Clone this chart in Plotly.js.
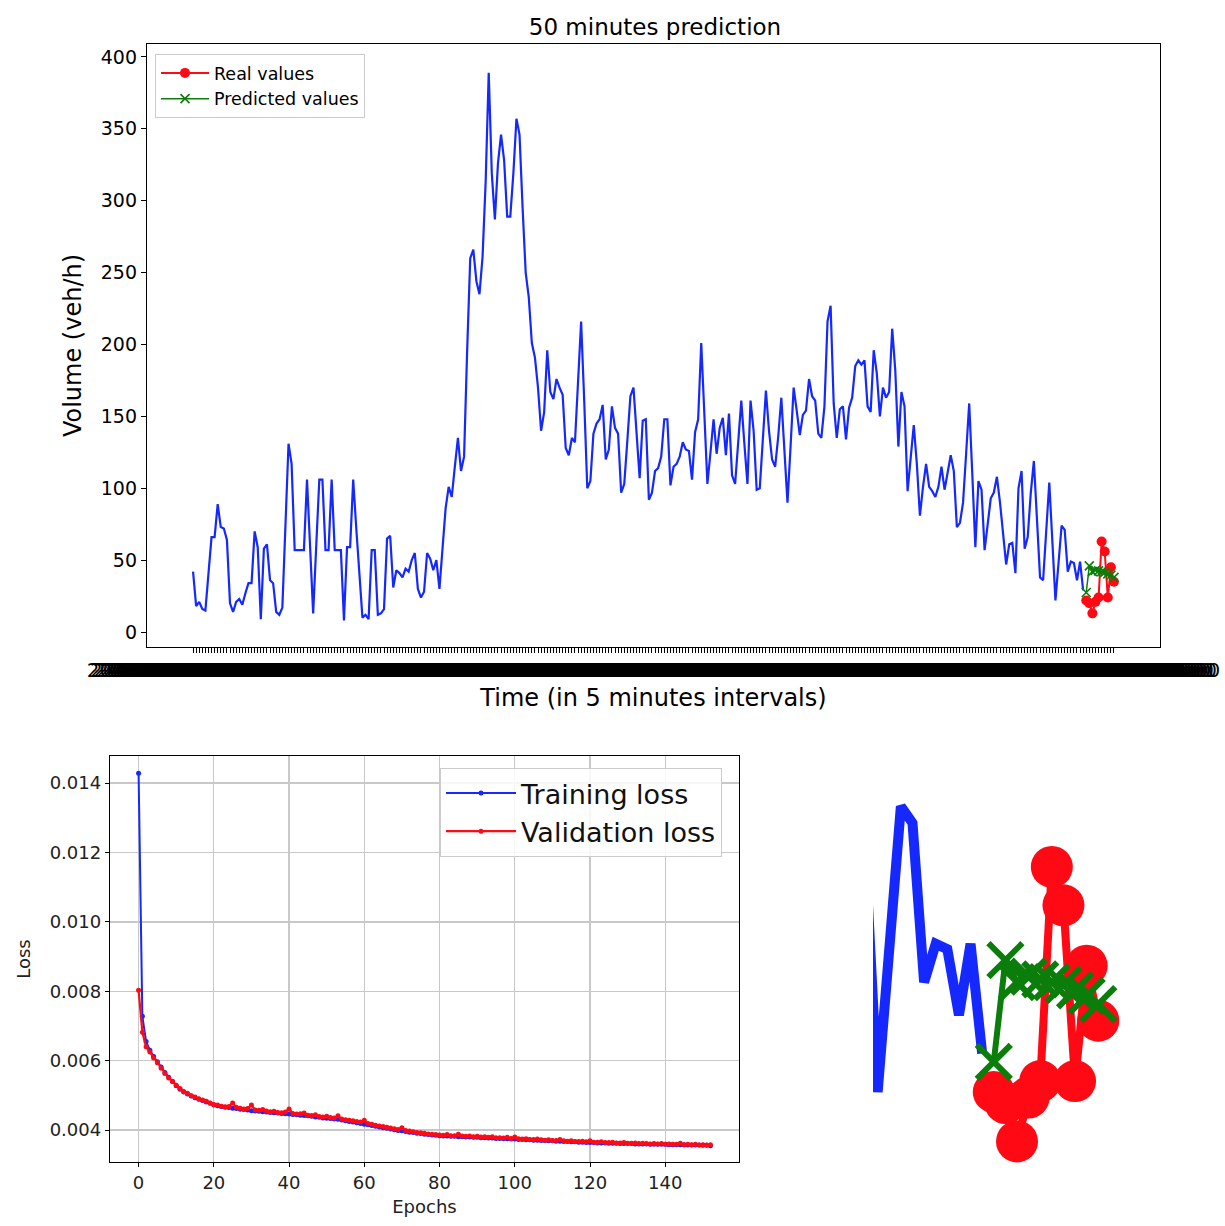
<!DOCTYPE html>
<html><head><meta charset="utf-8">
<script src="https://cdn.plot.ly/plotly-3.0.1.min.js"></script>
<style>html,body{margin:0;padding:0;background:#fff}#chart{width:1225px;height:1226px}</style>
</head><body><div id="chart"></div>
<script>
// Observed traffic volume (veh/h), 5-minute steps
const volume = [
42,18,21,16,15,40,66,66,89,73,72,64,20,14,21,23,19,27,34,34,70,59,9,58,61,36,34,14,12,17,74,131,117,57,57,57,57,106,60,13,60,106,106,57,57,106,57,57,57,8,59,59,106,72,38,10,12,9,57,57,12,
13,16,65,67,31,43,41,38,44,42,50,55,30,24,28,55,51,43,50,30,55,86,101,94,115,135,112,122,196,260,266,244,235,261,313,389,319,287,326,346,328,289,289,319,357,346,295,250,233,201,191,170,140,153,196,167,162,176,170,
165,128,123,135,132,174,216,161,100,105,138,145,148,158,120,127,157,142,138,97,103,133,164,170,138,107,147,148,92,97,112,114,122,148,148,102,115,117,122,132,127,126,106,139,148,201,152,103,125,148,124,142,149,123,152,109,103,132,161,131,
103,161,140,99,100,134,168,140,120,115,136,163,129,90,129,170,154,137,151,154,176,164,161,138,135,157,216,227,159,135,155,157,134,156,163,185,189,186,189,157,153,196,180,150,170,163,167,211,182,129,167,157,98,121,144,117,81,101,117,101,
98,94,101,115,99,111,123,112,73,76,90,124,159,110,59,105,99,57,75,93,97,108,90,68,47,61,62,41,100,112,58,66,97,119,78,38,36,70,104,63,22,48,74,71,42,49,48,36,49,29
];
const realValues = [22,20,13,21,24,63,56,24,45,35];
const predictedValues = [27.5,46,42,43,42.5,42,41.5,40.5,39.5,38];

const trainingLoss = [
0.01428,0.00728,0.00655,0.00630,0.00612,0.00597,0.00582,0.00566,0.00552,0.00540,
0.00528,0.00518,0.00510,0.00504,0.00498,0.00493,0.00489,0.00485,0.00481,0.00477,
0.00472,0.00470,0.00468,0.00466,0.00465,0.00463,0.00462,0.00460,0.00459,0.00458,
0.00456,0.00455,0.00454,0.00453,0.00452,0.00451,0.00450,0.00449,0.00448,0.00447,
0.00446,0.00445,0.00444,0.00443,0.00442,0.00441,0.00440,0.00438,0.00437,0.00435,
0.00434,0.00433,0.00432,0.00431,0.00429,0.00427,0.00425,0.00423,0.00421,0.00419,
0.00417,0.00415,0.00413,0.00411,0.00409,0.00407,0.00405,0.00403,0.00401,0.00399,
0.00398,0.00396,0.00394,0.00393,0.00391,0.00390,0.00388,0.00387,0.00386,0.00385,
0.00384,0.00383,0.00383,0.00382,0.00382,0.00381,0.00381,0.00380,0.00380,0.00379,
0.00379,0.00378,0.00378,0.00377,0.00377,0.00376,0.00376,0.00375,0.00375,0.00374,
0.00374,0.00373,0.00373,0.00372,0.00372,0.00371,0.00371,0.00370,0.00370,0.00369,
0.00369,0.00368,0.00368,0.00367,0.00367,0.00366,0.00366,0.00365,0.00365,0.00364,
0.00364,0.00364,0.00363,0.00363,0.00363,0.00362,0.00362,0.00362,0.00361,0.00361,
0.00361,0.00361,0.00360,0.00360,0.00360,0.00360,0.00359,0.00359,0.00359,0.00359,
0.00359,0.00358,0.00358,0.00358,0.00358,0.00358,0.00357,0.00357,0.00357,0.00357,
0.00356,0.00356,0.00355
];
const validationLoss = [
0.00803,0.00682,0.00640,0.00625,0.00608,0.00594,0.00578,0.00563,0.00550,0.00541,
0.00529,0.00520,0.00511,0.00506,0.00499,0.00495,0.00490,0.00487,0.00483,0.00478,
0.00474,0.00472,0.00469,0.00467,0.00468,0.00478,0.00466,0.00463,0.00461,0.00462,
0.00472,0.00458,0.00457,0.00459,0.00455,0.00453,0.00454,0.00451,0.00450,0.00452,
0.00461,0.00448,0.00446,0.00447,0.00449,0.00443,0.00442,0.00444,0.00439,0.00438,
0.00440,0.00436,0.00435,0.00441,0.00432,0.00430,0.00428,0.00427,0.00425,0.00423,
0.00428,0.00419,0.00417,0.00414,0.00412,0.00410,0.00408,0.00406,0.00404,0.00402,
0.00407,0.00399,0.00397,0.00395,0.00393,0.00392,0.00391,0.00389,0.00388,0.00387,
0.00386,0.00385,0.00387,0.00384,0.00384,0.00388,0.00383,0.00382,0.00383,0.00381,
0.00382,0.00380,0.00381,0.00379,0.00381,0.00378,0.00378,0.00377,0.00379,0.00376,
0.00380,0.00375,0.00374,0.00375,0.00373,0.00373,0.00374,0.00372,0.00371,0.00372,
0.00370,0.00370,0.00373,0.00369,0.00368,0.00369,0.00367,0.00367,0.00368,0.00366,
0.00369,0.00365,0.00365,0.00366,0.00364,0.00364,0.00365,0.00363,0.00363,0.00364,
0.00362,0.00362,0.00363,0.00361,0.00362,0.00361,0.00360,0.00361,0.00360,0.00361,
0.00359,0.00360,0.00359,0.00359,0.00362,0.00358,0.00359,0.00358,0.00359,0.00357,
0.00358,0.00357,0.00358
];
const startTime = '2016-06-01T00:00:00Z';
const stepMinutes = 5;

// positions (categories) and tick labels
const nBlue = volume.length;
const nAll = nBlue + realValues.length;
const blueIdx = volume.map((_, i) => i);
const predIdx = realValues.map((_, i) => nBlue + i);
const allIdx = [];
const timeLabels = [];
const t0 = Date.parse(startTime);
const p2 = v => String(v).padStart(2, '0');
for (let i = 0; i < nAll; i++) {
  allIdx.push(i);
  const d = new Date(t0 + i * stepMinutes * 60000);
  timeLabels.push(d.getUTCFullYear() + '-' + p2(d.getUTCMonth() + 1) + '-' + p2(d.getUTCDate()) + ' ' +
    p2(d.getUTCHours()) + ':' + p2(d.getUTCMinutes()) + ':' + p2(d.getUTCSeconds()));
}
const epochs = trainingLoss.map((_, i) => i);

const F = 'DejaVu Sans, sans-serif';
const BLUE = '#1428ff', RED = '#ff0a14', GREEN = '#0a7d0a';
const W = 1225, H = 1226;
const px = v => v / W, py = v => 1 - v / H;

const insetFrom = nBlue - 10;
const traces = [
  {x: blueIdx, y: volume, type: 'scatter', mode: 'lines', line: {color: BLUE, width: 2.2}, showlegend: false, xaxis: 'x', yaxis: 'y', hoverinfo: 'skip'},
  {x: predIdx, y: realValues, type: 'scatter', mode: 'lines+markers', name: 'Real values', line: {color: RED, width: 2}, marker: {color: RED, size: 10, symbol: 'circle'}, xaxis: 'x', yaxis: 'y'},
  {x: predIdx, y: predictedValues, type: 'scatter', mode: 'lines+markers', name: 'Predicted values', line: {color: GREEN, width: 1.5}, marker: {color: GREEN, size: 9, symbol: 'x-thin', line: {color: GREEN, width: 1.6}}, xaxis: 'x', yaxis: 'y'},

  {x: epochs, y: trainingLoss, type: 'scatter', mode: 'lines+markers', name: 'Training loss', line: {color: BLUE, width: 2}, marker: {color: BLUE, size: 5}, xaxis: 'x2', yaxis: 'y2', legend: 'legend2'},
  {x: epochs, y: validationLoss, type: 'scatter', mode: 'lines+markers', name: 'Validation loss', line: {color: RED, width: 2.2}, marker: {color: RED, size: 5}, xaxis: 'x2', yaxis: 'y2', legend: 'legend2'},

  {x: blueIdx.slice(insetFrom - 2), y: volume.slice(insetFrom - 2), type: 'scatter', mode: 'lines', line: {color: BLUE, width: 10}, showlegend: false, xaxis: 'x3', yaxis: 'y3', hoverinfo: 'skip'},
  {x: predIdx, y: realValues, type: 'scatter', mode: 'lines+markers', line: {color: RED, width: 8}, marker: {color: RED, size: 42}, showlegend: false, xaxis: 'x3', yaxis: 'y3', hoverinfo: 'skip'},
  {x: predIdx, y: predictedValues, type: 'scatter', mode: 'lines+markers', line: {color: GREEN, width: 6}, marker: {color: GREEN, size: 34, symbol: 'x-thin', line: {color: GREEN, width: 6}}, showlegend: false, xaxis: 'x3', yaxis: 'y3', hoverinfo: 'skip'}
];

const frame = {showline: true, mirror: true, linecolor: '#000', linewidth: 1.2, zeroline: false, automargin: false};
const layout = {
  width: W, height: H,
  margin: {l: 0, r: 0, t: 0, b: 0, pad: 0},
  paper_bgcolor: '#fff', plot_bgcolor: '#fff',
  font: {family: F, color: '#000'},
  title: {text: '50 minutes prediction', font: {family: F, size: 23, color: '#000'}, x: px(655), xanchor: 'center', y: py(27), yanchor: 'middle'},
  xaxis: Object.assign({}, frame, {
    domain: [px(147), px(1160)], anchor: 'y', range: [-0.05 * (nAll - 1), 1.05 * (nAll - 1)],
    tickmode: 'array', tickvals: allIdx, ticktext: timeLabels, tickangle: 0,
    ticks: 'outside', ticklen: 5, tickwidth: 1, tickcolor: '#000', showgrid: false,
    tickfont: {family: F, size: 20, color: '#000'},
    title: {text: 'Time (in 5 minutes intervals)', font: {family: F, size: 24, color: '#000'}, standoff: 8}
  }),
  yaxis: Object.assign({}, frame, {
    domain: [py(647), py(44)], anchor: 'x', range: [-10.4, 409],
    tickmode: 'linear', tick0: 0, dtick: 50,
    ticks: 'outside', ticklen: 5, tickcolor: '#000', showgrid: false,
    tickfont: {family: F, size: 19, color: '#000'},
    title: {text: 'Volume (veh/h)', font: {family: F, size: 24, color: '#000'}, standoff: 12}
  }),
  xaxis2: Object.assign({}, frame, {
    domain: [px(110), px(739)], anchor: 'y2', range: [-7.6, 159.6],
    tickmode: 'linear', tick0: 0, dtick: 20,
    ticks: 'outside', ticklen: 4, tickcolor: '#000', showgrid: true, gridcolor: '#c8c8c8', gridwidth: 1.3,
    tickfont: {family: F, size: 18, color: '#222'},
    title: {text: 'Epochs', font: {family: F, size: 18, color: '#222'}, standoff: 8}
  }),
  yaxis2: Object.assign({}, frame, {
    domain: [py(1162), py(756)], anchor: 'x2', range: [0.00308, 0.01478],
    tickmode: 'linear', tick0: 0.004, dtick: 0.002, tickformat: '.3f',
    ticks: 'outside', ticklen: 4, tickcolor: '#000', showgrid: true, gridcolor: '#c8c8c8', gridwidth: 1.3,
    tickfont: {family: F, size: 18, color: '#222'},
    title: {text: 'Loss', font: {family: F, size: 18, color: '#222'}, standoff: 14}
  }),
  xaxis3: {domain: [px(873), px(1125)], anchor: 'y3', range: [insetFrom - 0.4, nAll - 1 + 2.3], visible: false, showgrid: false, zeroline: false},
  yaxis3: {domain: [py(1170), py(790)], anchor: 'x3', range: [7.8, 77], visible: false, showgrid: false, zeroline: false},
  showlegend: true,
  legend: {x: px(155), y: py(54), xanchor: 'left', yanchor: 'top', bgcolor: 'rgba(255,255,255,0.85)', bordercolor: '#cccccc', borderwidth: 1, font: {family: F, size: 17.5, color: '#000'}, tracegroupgap: 2, itemwidth: 48},
  legend2: {x: px(440), y: py(768), xanchor: 'left', yanchor: 'top', bgcolor: 'rgba(255,255,255,0.85)', bordercolor: '#cccccc', borderwidth: 1, font: {family: F, size: 27, color: '#111'}, tracegroupgap: 2, itemwidth: 70}
};

Plotly.newPlot('chart', traces, layout, {displayModeBar: false, staticPlot: true});
</script></body></html>
